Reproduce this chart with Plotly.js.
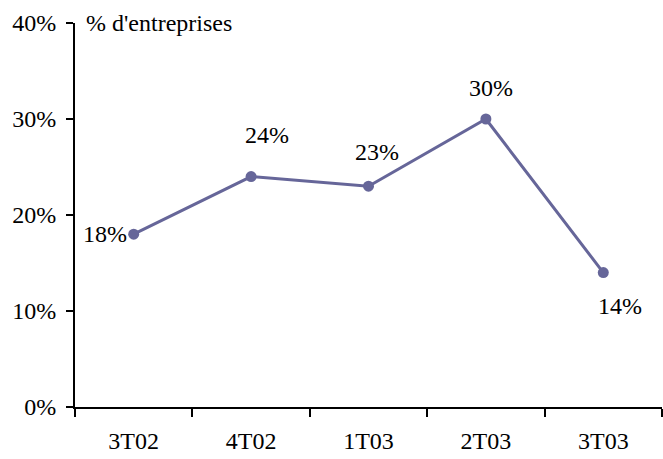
<!DOCTYPE html>
<html>
<head>
<meta charset="utf-8">
<script src="https://cdn.plot.ly/plotly-3.0.1.min.js"></script>
<style>html,body{margin:0;padding:0;background:#fff;}#chart{width:663px;height:459px;}</style>
</head>
<body>
<div id="chart"></div>
<script>
const categories = ["3T02", "4T02", "1T03", "2T03", "3T03"];
const values = [18, 24, 23, 30, 14];
const yTickValues = [0, 10, 20, 30, 40];
const yTickLabels = ["0%", "10%", "20%", "30%", "40%"];
const axisTitle = "% d'entreprises";

const font = {family: "Times New Roman, Liberation Serif, serif", size: 24, color: "#000"};
const labelOffsets = [[-5, 0, "right"], [16, -42, "center"], [8, -34, "center"], [5, -31, "center"], [17, 33, "center"]];

const annotations = categories.map((c, i) => ({
  x: c, y: values[i], xref: "x", yref: "y",
  text: values[i] + "%", showarrow: false,
  xanchor: labelOffsets[i][2], yanchor: "middle",
  xshift: labelOffsets[i][0], yshift: -labelOffsets[i][1],
  font: font
}));
annotations.push({
  xref: "paper", yref: "paper", x: 0.016, y: 1.0, xanchor: "left", yanchor: "middle",
  text: axisTitle, showarrow: false, font: font
});

Plotly.newPlot("chart", [{
  x: categories, y: values, type: "scatter", mode: "lines+markers",
  line: {color: "#666699", width: 3},
  marker: {color: "#666699", size: 11},
  hoverinfo: "none"
}], {
  width: 663, height: 459,
  margin: {l: 75, r: 1, t: 23, b: 52},
  paper_bgcolor: "#fff", plot_bgcolor: "#fff",
  showlegend: false,
  font: font,
  xaxis: {
    type: "category", range: [-0.5, 4.5],
    showline: true, linecolor: "#000", linewidth: 2,
    ticks: "outside", tickson: "boundaries", ticklen: 8, tickcolor: "#000", tickwidth: 2,
    ticklabelstandoff: 11,
    showgrid: false, zeroline: false, tickfont: font
  },
  yaxis: {
    range: [0, 40], tickvals: yTickValues, ticktext: yTickLabels,
    showline: true, linecolor: "#000", linewidth: 2,
    ticks: "outside", ticklen: 7, tickcolor: "#000", tickwidth: 2,
    ticklabelstandoff: 5,
    showgrid: false, zeroline: false, tickfont: font
  },
  annotations: annotations
}, {displayModeBar: false, staticPlot: true});
</script>
</body>
</html>
